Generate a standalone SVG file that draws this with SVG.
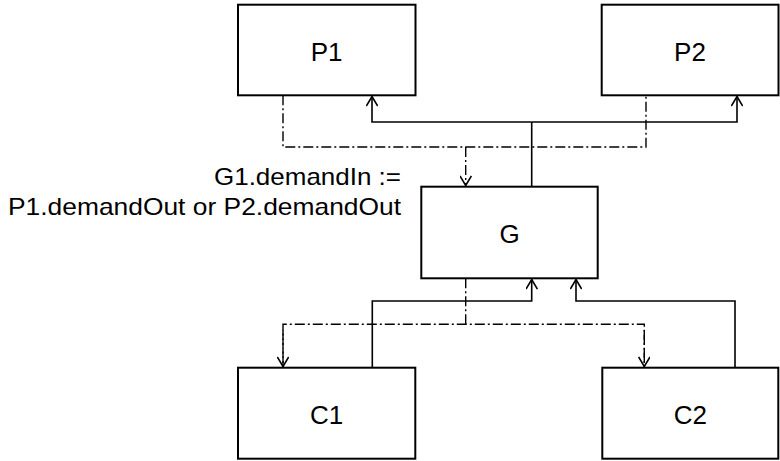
<svg xmlns="http://www.w3.org/2000/svg" width="780" height="461" viewBox="0 0 780 461">
<style>
.box{fill:#fff;stroke:#000;stroke-width:2}
.lbl{font-family:"Liberation Sans",Arial,sans-serif;font-size:26px;fill:#000;text-anchor:middle}
.ann{font-family:"Liberation Sans",Arial,sans-serif;font-size:24px;fill:#000}
.solid{fill:none;stroke:#000;stroke-width:1.6}
.dd{fill:none;stroke:#000;stroke-width:1.4;stroke-dasharray:10,3,2,3}
</style>
<defs>
<marker id="arr" viewBox="0 0 12 12" refX="11" refY="6" markerWidth="12" markerHeight="12" markerUnits="userSpaceOnUse" orient="auto">
<path d="M1.5,0.3 L11,6 L1.5,11.7" fill="none" stroke="#000" stroke-width="1.6"/>
</marker>
</defs>
<rect width="780" height="461" fill="#fff"/>
<g id="connectors">
<path class="solid" d="M531.7,186.7 V122"/>
<path class="solid" d="M531.7,122 H372 V96.5" marker-end="url(#arr)"/>
<path class="solid" d="M531.7,122 H737 V96.5" marker-end="url(#arr)"/>
<path class="dd" d="M283,95.3 V147 H646 V95.3"/>
<path class="dd" d="M465.7,147 V185.5" marker-end="url(#arr)"/>
<path class="dd" d="M465.7,278.3 V324.3"/>
<path class="dd" d="M283,366.5 V324.3 H644.3 V366.5"/>
<path class="dd" d="M283,330 V366.5" marker-end="url(#arr)"/>
<path class="dd" d="M644.3,330 V366.5" marker-end="url(#arr)"/>
<path class="solid" d="M372.3,367.7 V301 H531.7 V279.5" marker-end="url(#arr)"/>
<path class="solid" d="M735,367.7 V301 H576 V279.5" marker-end="url(#arr)"/>
</g>
<g id="P1"><rect class="box" x="238" y="4.7" width="177.5" height="90.6"/><text class="lbl" x="326.7" y="60.5">P1</text></g>
<g id="P2"><rect class="box" x="601.7" y="4.7" width="176.8" height="90.6"/><text class="lbl" x="690" y="60.5">P2</text></g>
<g id="G"><rect class="box" x="421.3" y="186.7" width="176.4" height="91.6"/><text class="lbl" x="509.5" y="242.5">G</text></g>
<g id="C1"><rect class="box" x="238" y="367.7" width="177.3" height="91"/><text class="lbl" x="326.7" y="423.5">C1</text></g>
<g id="C2"><rect class="box" x="602.3" y="367.7" width="176" height="91"/><text class="lbl" x="690.3" y="423.5">C2</text></g>
<g id="annotation">
<text class="ann" x="214" y="185" textLength="187" lengthAdjust="spacingAndGlyphs">G1.demandIn :=</text>
<text class="ann" x="8" y="215" textLength="393" lengthAdjust="spacingAndGlyphs">P1.demandOut or P2.demandOut</text>
</g>
</svg>
